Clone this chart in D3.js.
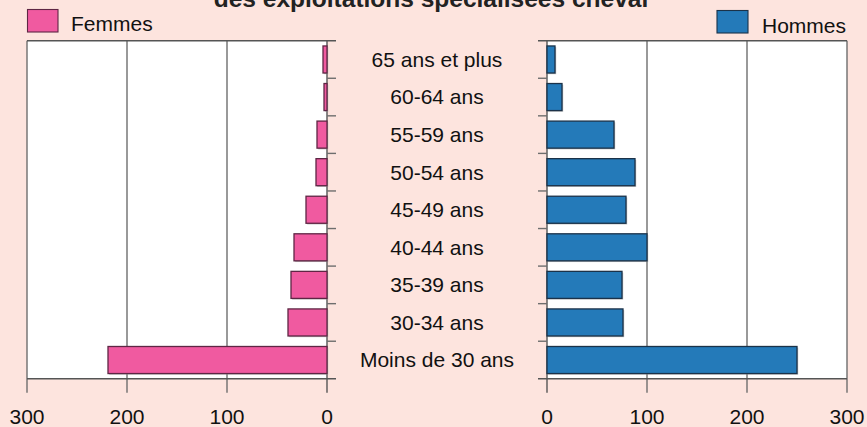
<!DOCTYPE html>
<html><head><meta charset="utf-8">
<script src="https://cdn.jsdelivr.net/npm/d3@7"></script>
<style>
html,body{margin:0;padding:0;background:#fde4de;}
svg{display:block;font-family:"Liberation Sans",Arial,Helvetica,sans-serif;}
</style></head>
<body>
<svg id="chart" width="867" height="427"></svg>
<script>
const categories = ["65 ans et plus","60-64 ans","55-59 ans","50-54 ans","45-49 ans","40-44 ans","35-39 ans","30-34 ans","Moins de 30 ans"];
const femmes = [4, 3, 10, 11, 21, 33, 36, 39, 219];
const hommes = [8, 15, 67, 88, 79, 100, 75, 76, 250];
const tickValues = [0, 100, 200, 300];
const seriesNames = ["Femmes", "Hommes"];
const titleText = "des exploitations spécialisées cheval";

(function () {
const svg = d3.select("#chart");
const W = 867, H = 427;
svg.append("rect").attr("width", W).attr("height", H).attr("fill", "#fde4de");

const plotTop = 40.7, plotBottom = 378.8, tickLen = 9, xTick = 14;
const xL = d3.scaleLinear().domain([0, 300]).range([327, 27]);
const xR = d3.scaleLinear().domain([0, 300]).range([547, 847]);
const y = d3.scaleBand().domain(categories).range([plotTop, plotBottom]).paddingInner(0.28).paddingOuter(0.14);
const lineCol = "#6e6e6e";
const fontSize = 21;

// title (cropped at top, as in the reference)
svg.append("text").attr("x", 431).attr("y", 6.5).attr("text-anchor", "middle")
  .attr("font-weight", "bold").attr("font-size", 24.5).attr("fill", "#222").text(titleText);

function panel(x, data, fill, stroke, side) {
  const x0 = x(0), x3 = x(300);
  const lo = Math.min(x0, x3), hi = Math.max(x0, x3);
  const g = svg.append("g");
  g.append("rect").attr("x", lo).attr("y", plotTop).attr("width", hi - lo).attr("height", plotBottom - plotTop).attr("fill", "#fff");
  g.selectAll("line.grid").data(tickValues).join("line")
    .attr("x1", d => x(d)).attr("x2", d => x(d))
    .attr("y1", plotTop).attr("y2", plotBottom + xTick)
    .attr("stroke", d => d === 0 ? "#555" : lineCol).attr("stroke-width", 1.4);
  const edge = x0, dir = side === "left" ? 1 : -1;
  const bounds = categories.map(c => y(c) - y.step() * y.paddingInner() / 2).slice(1);
  g.selectAll("line.yt").data(bounds).join("line")
    .attr("x1", edge).attr("x2", edge + dir * tickLen)
    .attr("y1", d => d).attr("y2", d => d)
    .attr("stroke", lineCol).attr("stroke-width", 1.4);
  [plotTop, plotBottom].forEach(yy => {
    g.append("line").attr("x1", x3).attr("x2", edge + dir * tickLen)
      .attr("y1", yy).attr("y2", yy).attr("stroke", "#555").attr("stroke-width", 1.4);
  });
  g.selectAll("rect.sh").data(data).join("rect")
    .attr("x", d => Math.min(x(0), x(d)) + 1.2)
    .attr("y", (d, i) => y(categories[i]) + 1.2)
    .attr("width", d => Math.abs(x(d) - x(0)))
    .attr("height", y.bandwidth())
    .attr("fill", "#9a9a9a").attr("opacity", 0.6);
  g.selectAll("rect.bar").data(data).join("rect")
    .attr("x", d => Math.min(x(0), x(d)))
    .attr("y", (d, i) => y(categories[i]))
    .attr("width", d => Math.abs(x(d) - x(0)))
    .attr("height", y.bandwidth())
    .attr("fill", fill).attr("stroke", stroke).attr("stroke-width", 1.3);
  g.selectAll("text.tl").data(tickValues).join("text")
    .attr("x", d => x(d)).attr("y", 423.5).attr("text-anchor", "middle")
    .attr("font-size", fontSize).attr("fill", "#111").text(d => d);
}

panel(xL, femmes, "#f05aa0", "#5e2644", "left");
panel(xR, hommes, "#247ab9", "#1b3249", "right");

svg.selectAll("text.cat").data(categories).join("text")
  .attr("x", 437).attr("y", d => y(d) + y.bandwidth() / 2).attr("dy", "0.35em")
  .attr("text-anchor", "middle").attr("font-size", fontSize).attr("fill", "#111").text(d => d);

svg.append("rect").attr("x", 27.5).attr("y", 9.5).attr("width", 30.5).attr("height", 22.5)
  .attr("fill", "#f05aa0").attr("stroke", "#5e2644").attr("stroke-width", 1.1);
svg.append("text").attr("x", 71).attr("y", 31).attr("font-size", fontSize).attr("fill", "#111").text(seriesNames[0]);
svg.append("rect").attr("x", 717).attr("y", 10.5).attr("width", 31).attr("height", 22.5)
  .attr("fill", "#247ab9").attr("stroke", "#1b3249").attr("stroke-width", 1.1);
svg.append("text").attr("x", 762).attr("y", 33).attr("font-size", fontSize).attr("fill", "#111").text(seriesNames[1]);
})();
</script>
</body></html>
